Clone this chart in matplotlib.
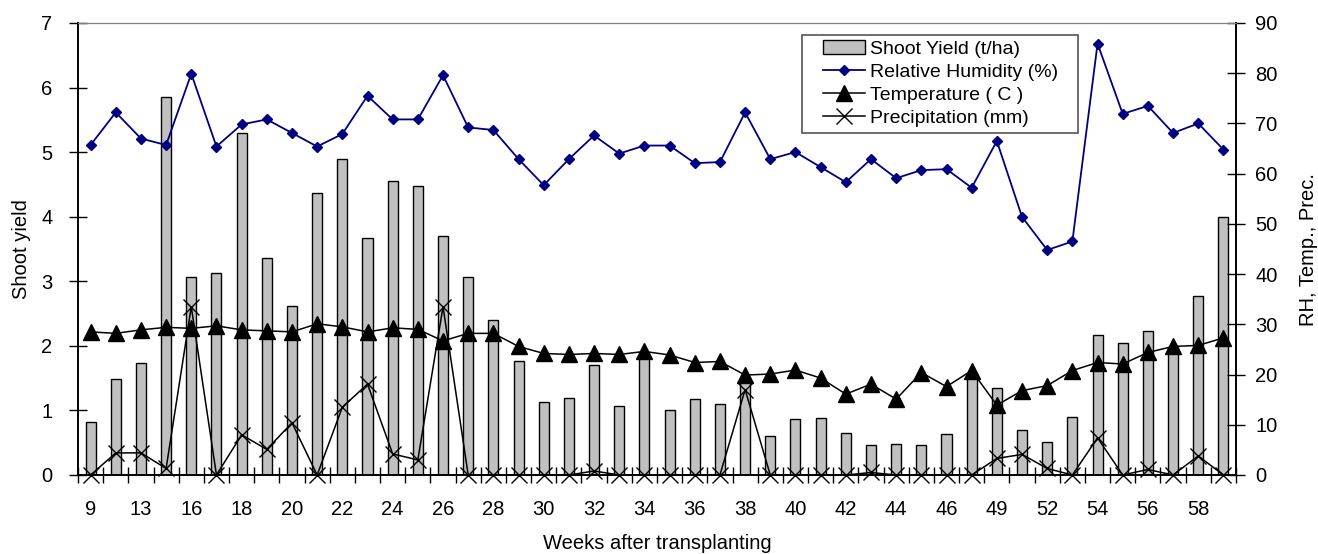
import matplotlib
matplotlib.use("Agg")
import matplotlib.pyplot as plt
from matplotlib.patches import Rectangle
from matplotlib.ticker import FixedLocator, NullFormatter
import numpy as np

plt.rcParams['font.family'] = ['Liberation Sans', 'DejaVu Sans']
plt.rcParams['font.size'] = 14.5

weeks = [9, 11, 13, 14, 16, 17, 18, 19, 20, 21, 22, 23, 24, 25, 26, 27, 28, 29,
         30, 31, 32, 33, 34, 35, 36, 37, 38, 39, 40, 41, 42, 43, 44, 45, 46, 48,
         49, 51, 52, 53, 54, 55, 56, 57, 58, 59]

shoot_yield = [0.82, 1.49, 1.73, 5.85, 3.07, 3.13, 5.30, 3.36, 2.62, 4.37, 4.89, 3.67,
               4.55, 4.48, 3.70, 3.07, 2.40, 1.77, 1.13, 1.19, 1.70, 1.07, 1.81, 1.00,
               1.17, 1.10, 1.45, 0.60, 0.87, 0.89, 0.65, 0.46, 0.48, 0.46, 0.63, 1.55,
               1.35, 0.70, 0.51, 0.90, 2.17, 2.04, 2.23, 1.98, 2.77, 3.99]

humidity = [65.7, 72.2, 67.0, 65.7, 79.9, 65.4, 69.8, 70.8, 68.1, 65.4, 67.9, 75.5,
            70.8, 70.8, 79.6, 69.2, 68.7, 62.9, 57.7, 62.9, 67.6, 64.0, 65.6, 65.6,
            62.1, 62.3, 72.2, 62.9, 64.3, 61.3, 58.3, 62.9, 59.1, 60.7, 60.9, 57.2,
            66.5, 51.4, 44.8, 46.5, 85.9, 71.9, 73.5, 68.1, 70.0, 64.8]

temperature = [28.5, 28.2, 28.9, 29.4, 29.2, 29.7, 28.9, 28.7, 28.5, 30.1, 29.5, 28.5,
               29.3, 29.0, 26.7, 28.2, 28.2, 25.6, 24.2, 24.0, 24.2, 24.0, 24.6, 23.9,
               22.4, 22.6, 19.9, 20.1, 20.9, 19.3, 16.1, 18.1, 15.1, 20.4, 17.6, 20.8,
               13.9, 16.8, 17.8, 20.8, 22.4, 22.1, 24.4, 25.6, 25.8, 27.3]

precipitation = [0, 4.4, 4.4, 1.3, 33.5, 0, 8.0, 5.1, 10.4, 0, 13.5, 18.1,
                 4.2, 3.0, 33.5, 0, 0, 0, 0, 0, 0.8, 0, 0, 0,
                 0, 0, 17.0, 0, 0, 0, 0, 0.5, 0, 0, 0, 0,
                 3.3, 4.1, 1.3, 0, 7.4, 0, 1.1, 0, 3.8, 0]

x = np.arange(len(weeks))
W, H = 1318, 554

fig = plt.figure(figsize=(W / 100, H / 100), dpi=100)
ax = fig.add_axes([78 / W, (H - 475) / H, (1236 - 78) / W, (475 - 23) / H])
ax2 = ax.twinx()

bars = ax.bar(x, shoot_yield, width=0.4, color='#C0C0C0', edgecolor='black',
              linewidth=1.0, label='Shoot Yield (t/ha)', zorder=2)
rh, = ax2.plot(x, humidity, color='#000080', marker='D', markersize=5.5,
               linewidth=1.3, label='Relative Humidity (%)', zorder=3)
temp, = ax2.plot(x, temperature, color='black', marker='^', markersize=11,
                 linewidth=1.1, label='Temperature ( C )', zorder=3)
prec, = ax2.plot(x, precipitation, color='black', marker='x', markersize=11,
                 markeredgewidth=1.0, linewidth=1.1, label='Precipitation (mm)',
                 zorder=3, clip_on=False)

ax.set_xlim(-0.5, len(weeks) - 0.5)
ax.set_ylim(0, 7)
ax2.set_ylim(0, 90)
ax.set_yticks(range(0, 8))
ax2.set_yticks(range(0, 91, 10))

# labels on every other week, tick marks on the category boundaries
ax.set_xticks(x[::2])
ax.set_xticklabels([str(w) for w in weeks[::2]])
ax.tick_params(axis='x', which='major', length=0, pad=18)
ax.xaxis.set_minor_locator(FixedLocator(np.arange(-0.5, len(weeks), 1.0)))
ax.xaxis.set_minor_formatter(NullFormatter())
ax.tick_params(axis='x', which='minor', direction='inout', length=12, width=1)
ax.tick_params(axis='y', direction='inout', length=13, width=1, pad=12)
ax2.tick_params(axis='y', direction='inout', length=13, width=1, pad=7.5)

for a in (ax, ax2):
    a.spines['top'].set_color('#808080')
    a.spines['left'].set_linewidth(1.2)
    a.spines['right'].set_linewidth(1.2)
    a.spines['bottom'].set_linewidth(1.2)
ax2.set_zorder(ax.get_zorder() + 1)
ax.patch.set_visible(False)

ax.set_xlabel('Weeks after transplanting', labelpad=11)
ax.set_ylabel('Shoot yield', labelpad=7)
ax2.set_ylabel('RH, Temp., Prec.', labelpad=15)

# legend box drawn separately so the entries sit inset from the frame
frame = Rectangle((802 / W, (H - 133) / H), 276 / W, 98 / H,
                  transform=fig.transFigure, facecolor='white',
                  edgecolor='#555555', linewidth=1.2, zorder=6, clip_on=False)
ax2.add_patch(frame)
leg = ax2.legend(handles=[bars, rh, temp, prec], loc='upper left',
                 bbox_to_anchor=(823 / W, (H - 40) / H),
                 bbox_transform=fig.transFigure, frameon=False, fontsize=14,
                 handlelength=2.17, handletextpad=0.25, labelspacing=0.28,
                 borderpad=0, borderaxespad=0)
leg.set_zorder(7)

fig.savefig('out.png', dpi=100)
